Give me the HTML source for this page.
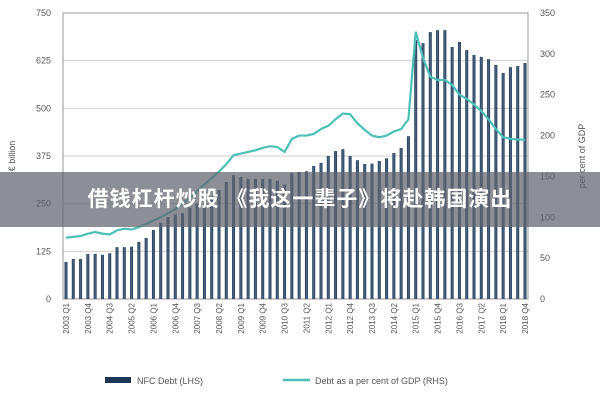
<!DOCTYPE html>
<html><head><meta charset="utf-8"><style>
body{margin:0;background:#fff;}
#c{position:relative;width:600px;height:400px;overflow:hidden;font-family:"Liberation Sans",sans-serif;}
#banner{position:absolute;left:0;top:172px;width:600px;height:55px;background:rgba(95,100,110,0.72);color:#fff;font:bold 21px "Liberation Sans","Noto Sans CJK SC",sans-serif;line-height:55px;text-align:center;letter-spacing:1px;}
</style></head><body>
<div id="c">
<svg id="s" width="600" height="400">
<defs><linearGradient id="bg" x1="0" x2="1"><stop offset="0" stop-color="#1c3656"/><stop offset="0.5" stop-color="#4f6882"/><stop offset="1" stop-color="#1c3656"/></linearGradient></defs>
</svg>
<div id="banner">借钱杠杆炒股 《我这一辈子》将赴韩国演出</div>
</div>
<script>
const debt=[97,105,105,118,118,116,120,136,136,137,150,160,181,200,215,222,225,240,250,258,268,286,307,325,320,315,315,315,315,310,300,330,333,335,349,357,375,388,393,375,364,354,355,362,369,383,396,427,679,671,700,705,705,661,674,653,640,635,629,614,593,608,611,619];
const pct=[75,76,77,80,82,80,79,84,86,85,88,92,96,100,105,110,117,124,132,140,148,156,165,176,178,180,182,185,187,186,180,196,200,200,202,208,212,220,227,226,215,207,200,198,200,205,208,220,327,295,272,268,268,262,250,245,238,230,220,208,198,196,195,195];
const leftTicks=[0,125,250,375,500,625,750];
const rightTicks=[0,50,100,150,200,250,300,350];
const years=[];for(let y=2003;y<=2018;y++)for(let q=1;q<=4;q++)years.push(y+' Q'+q);
const svg=document.getElementById('s');const NS='http://www.w3.org/2000/svg';
const L=63,R=528,T=13,B=299;
const x=i=>66+i*(525-66)/63;
const yl=v=>B-v/750*(B-T);
const yr=v=>B-v/350*(B-T);
function el(t,a,p){const e=document.createElementNS(NS,t);for(const k in a)e.setAttribute(k,a[k]);(p||svg).appendChild(e);return e;}
leftTicks.forEach(v=>{
 const g=el('line',{x1:L,x2:R,y1:yl(v),y2:yl(v),stroke:'#d0d0d0','stroke-width':1});
 
 const t=el('text',{x:L-12,y:yl(v)+3,'text-anchor':'end','font-size':9,fill:'#555'});t.textContent=v;
 
});
rightTicks.forEach(v=>{
 const t=el('text',{x:R+12,y:yr(v)+3,'text-anchor':'start','font-size':9,fill:'#555'});t.textContent=v;
 
});
const fr=el('rect',{x:L,y:T,width:R-L,height:B-T,fill:'none',stroke:'#999','stroke-width':1});

debt.forEach((v,i)=>{
 const b=el('rect',{x:x(i)-1.5,y:yl(v),width:3,height:B-yl(v),fill:'url(#bg)'});
 
});
const ln=el('polyline',{points:pct.map((v,i)=>x(i)+','+yr(v)).join(' '),fill:'none',stroke:'#4cc0b8','stroke-width':2.2});

years.forEach((s,i)=>{if(i%3)return;
 const t=el('text',{transform:`translate(${x(i)+3},${B+4}) rotate(-90)`,'text-anchor':'end','font-size':8,fill:'#555'});t.textContent=s;
 
});
let t=el('text',{transform:'translate(15,156) rotate(-90)','text-anchor':'middle','font-size':9,fill:'#555'});t.textContent='€ billion';

t=el('text',{transform:'translate(585,156) rotate(-90)','text-anchor':'middle','font-size':9,fill:'#555'});t.textContent='per cent of GDP';

let r=el('rect',{x:105,y:377,width:26,height:6,fill:'#1c3656'});
t=el('text',{x:137,y:384,'font-size':9,fill:'#555'});t.textContent='NFC Debt (LHS)';
r=el('line',{x1:283,x2:310,y1:380,y2:380,stroke:'#4cc0b8','stroke-width':2.5});
t=el('text',{x:315,y:384,'font-size':9,fill:'#555'});t.textContent='Debt as a per cent of GDP (RHS)';
</script>
</body></html>
